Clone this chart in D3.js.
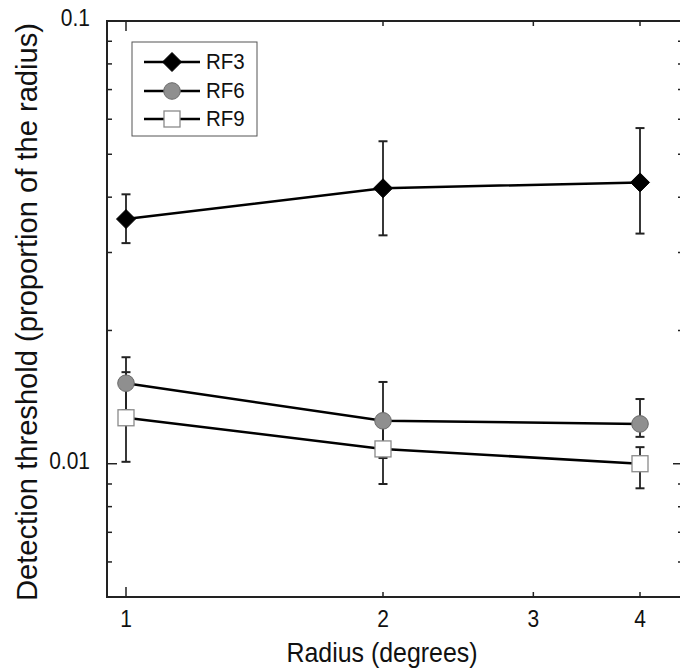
<!DOCTYPE html>
<html>
<head>
<meta charset="utf-8">
<script src="https://cdn.jsdelivr.net/npm/d3@7"></script>
<style>
  html, body { margin: 0; padding: 0; background: #fff; }
  svg { display: block; font-family: "Liberation Sans", Arial, Helvetica, sans-serif; }
</style>
</head>
<body>
<svg id="chart" width="680" height="670"></svg>
<script>
// ---- data ----
const radii = [1, 2, 4];
const seriesNames = ["RF3", "RF6", "RF9"];
const rf3 = [0.0357, 0.0419, 0.0432];
const rf3Upper = [0.0406, 0.0535, 0.0573];
const rf3Lower = [0.0315, 0.0328, 0.0331];
const rf6 = [0.0152, 0.0125, 0.0123];
const rf6Upper = [0.0174, 0.0153, 0.0140];
const rf6Lower = [0.0132, 0.0103, 0.0115];
const rf9 = [0.0127, 0.0108, 0.0100];
const rf9Upper = [0.0161, 0.0128, 0.0109];
const rf9Lower = [0.0101, 0.0090, 0.0088];
const xTickValues = [1, 2, 3, 4];
const yMajorTicks = [0.01, 0.1];
const yMinorTicks = [0.005, 0.006, 0.007, 0.008, 0.009, 0.02, 0.03, 0.04, 0.05, 0.06, 0.07, 0.08, 0.09];
const xLabel = "Radius (degrees)";
const yLabel = "Detection threshold (proportion of the radius)";

const series = [
  { name: seriesNames[0], values: rf3, upper: rf3Upper, lower: rf3Lower, shape: "diamond" },
  { name: seriesNames[1], values: rf6, upper: rf6Upper, lower: rf6Lower, shape: "circle" },
  { name: seriesNames[2], values: rf9, upper: rf9Upper, lower: rf9Lower, shape: "square" }
];

// ---- layout ----
const frame = { left: 107, top: 21, right: 683, bottom: 597 };
const x = d3.scaleLog().domain([1, 4]).range([126, 640]);
const y = d3.scaleLog().domain([0.005, 0.1]).range([frame.bottom, frame.top]);

const svg = d3.select("#chart");
const axisColor = "#222";

// frame
svg.append("rect")
  .attr("x", frame.left).attr("y", frame.top)
  .attr("width", frame.right - frame.left).attr("height", frame.bottom - frame.top)
  .attr("fill", "none").attr("stroke", axisColor).attr("stroke-width", 2);

// ticks (inward, major 10px, minor 5px)
const xMajor = new Set([1]);
xTickValues.forEach(v => {
  const len = xMajor.has(v) ? 10 : 5;
  const px = x(v);
  svg.append("line").attr("x1", px).attr("x2", px).attr("y1", frame.bottom).attr("y2", frame.bottom - len)
    .attr("stroke", axisColor).attr("stroke-width", 1.5);
  svg.append("line").attr("x1", px).attr("x2", px).attr("y1", frame.top).attr("y2", frame.top + len)
    .attr("stroke", axisColor).attr("stroke-width", 1.5);
  svg.append("text").attr("transform", `translate(${px},627) scale(1,1.1)`)
    .attr("text-anchor", "middle").attr("font-size", 21).attr("fill", "#111")
    .text(d3.format("d")(v));
});

function yTick(v, len) {
  const py = y(v);
  svg.append("line").attr("x1", frame.left).attr("x2", frame.left + len).attr("y1", py).attr("y2", py)
    .attr("stroke", axisColor).attr("stroke-width", 1.5);
  svg.append("line").attr("x1", frame.right).attr("x2", frame.right - len).attr("y1", py).attr("y2", py)
    .attr("stroke", axisColor).attr("stroke-width", 1.5);
}
yMinorTicks.forEach(v => yTick(v, 5));
yMajorTicks.forEach(v => {
  yTick(v, 10);
  svg.append("text").attr("transform", `translate(90,${y(v) + 5}) scale(1,1.1)`)
    .attr("text-anchor", "end")
    .attr("font-size", 21).attr("fill", "#111")
    .text(String(v));
});

// axis labels
svg.append("text").attr("x", 382).attr("y", 662)
  .attr("text-anchor", "middle").attr("font-size", 28).attr("fill", "#111")
  .attr("textLength", 191).attr("lengthAdjust", "spacingAndGlyphs")
  .text(xLabel);
svg.append("text")
  .attr("transform", "translate(37,312) rotate(-90)")
  .attr("text-anchor", "middle").attr("font-size", 29).attr("fill", "#111")
  .attr("textLength", 578).attr("lengthAdjust", "spacingAndGlyphs")
  .text(yLabel);

// marker drawing
function drawMarker(g, shape, cx, cy) {
  if (shape === "diamond") {
    const r = 9.5;
    g.append("path")
      .attr("d", `M${cx},${cy - r}L${cx + r},${cy}L${cx},${cy + r}L${cx - r},${cy}Z`)
      .attr("fill", "#000").attr("stroke", "#000").attr("stroke-width", 1);
  } else if (shape === "circle") {
    g.append("circle").attr("cx", cx).attr("cy", cy).attr("r", 8.3)
      .attr("fill", "#8f8f8f").attr("stroke", "#6a6a6a").attr("stroke-width", 1);
  } else {
    const s = 16;
    g.append("rect").attr("x", cx - s / 2).attr("y", cy - s / 2).attr("width", s).attr("height", s)
      .attr("fill", "#fff").attr("stroke", "#8a8a8a").attr("stroke-width", 1.3);
  }
}

const line = d3.line().x(d => x(d[0])).y(d => y(d[1]));

series.forEach(s => {
  const g = svg.append("g");
  radii.forEach((r, i) => {
    const px = x(r);
    g.append("line").attr("x1", px).attr("x2", px).attr("y1", y(s.upper[i])).attr("y2", y(s.lower[i]))
      .attr("stroke", "#222").attr("stroke-width", 1.8);
    [s.upper[i], s.lower[i]].forEach(v => {
      g.append("line").attr("x1", px - 4.5).attr("x2", px + 4.5).attr("y1", y(v)).attr("y2", y(v))
        .attr("stroke", "#222").attr("stroke-width", 2);
    });
  });
  g.append("path").datum(radii.map((r, i) => [r, s.values[i]]))
    .attr("d", line).attr("fill", "none").attr("stroke", "#000").attr("stroke-width", 2.5);
});
series.forEach(s => {
  const g = svg.append("g");
  radii.forEach((r, i) => drawMarker(g, s.shape, x(r), y(s.values[i])));
});

// legend
const legend = svg.append("g");
legend.append("rect").attr("x", 132).attr("y", 42).attr("width", 125).attr("height", 94)
  .attr("fill", "#fff").attr("stroke", "#555").attr("stroke-width", 1);
const rowY = [62, 91, 119];
series.forEach((s, i) => {
  const yy = rowY[i];
  legend.append("line").attr("x1", 144).attr("x2", 200).attr("y1", yy).attr("y2", yy)
    .attr("stroke", "#000").attr("stroke-width", 2.5);
  drawMarker(legend, s.shape, 172, yy);
  legend.append("text").attr("transform", `translate(206,${yy + 7}) scale(1,1.08)`)
    .attr("font-size", 20.5).attr("fill", "#111").text(s.name);
});
</script>
</body>
</html>
